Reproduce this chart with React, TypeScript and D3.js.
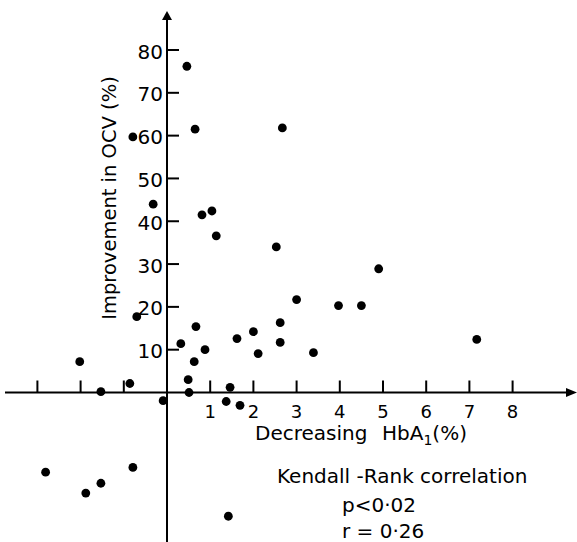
import React from "react";
import * as d3 from "d3";

const WIDTH = 577;
const HEIGHT = 542;
const FONT = "'DejaVu Sans', sans-serif";
const DOT_R = 4.4;

// tick values
const X_LABELED = [1, 2, 3, 4, 5, 6, 7, 8];
const X_UNLABELED = [-3, -2, -1];
const Y_TICKS = [10, 20, 30, 40, 50, 60, 70, 80];

// decrease in HbA1 (%) per patient
const HBA1_DROP = [
  0.46, 0.65, 2.67, -0.79, -0.32, 0.81, 1.04, 1.14, 2.53, 4.9,
  3.0, 3.97, 4.5, -0.7, 0.67, 2.62, 2.0, 1.62, 0.32, 2.62,
  0.88, 2.11, 3.39, 7.17, -2.02, 0.63, 0.49, 0.51, 1.46, -0.86,
  -1.53, -0.09, 1.37, 1.69, -2.81, -1.88, -1.53, -0.79, 1.42,
];

// improvement in OCV (%) per patient
const OCV_GAIN = [
  76.2, 61.5, 61.8, 59.7, 44.0, 41.5, 42.4, 36.6, 34.0, 28.9,
  21.7, 20.3, 20.3, 17.7, 15.4, 16.3, 14.2, 12.6, 11.4, 11.7,
  10.0, 9.1, 9.3, 12.4, 7.2, 7.2, 3.0, 0, 1.2, 2.1,
  0.2, -1.9, -2.1, -3.0, -18.6, -23.5, -21.2, -17.5, -28.9,
];

const STATS = ["Kendall -Rank correlation", "p<0\u00b702", "r = 0\u00b726"];

export default function App() {
  const x = d3.scaleLinear().domain([0, 8]).range([167, 512.6]);
  const y = d3.scaleLinear().domain([0, 80]).range([392.5, 50]);

  const x0 = x(0);
  const y0 = y(0);
  const points = HBA1_DROP.map((v, i) => ({ hx: v, oy: OCV_GAIN[i] }));

  return (
    <svg
      width={WIDTH}
      height={HEIGHT}
      style={{ position: "absolute", left: 0, top: 0, background: "#fff" }}
      fontFamily={FONT}
    >
      {/* axes */}
      <line x1={5} x2={WIDTH - 8} y1={y0} y2={y0} stroke="#000" strokeWidth={2} />
      <line x1={x0} x2={x0} y1={HEIGHT} y2={18} stroke="#000" strokeWidth={2} />
      <path d={`M${WIDTH},${y0} L${WIDTH - 11},${y0 - 4.5} L${WIDTH - 11},${y0 + 4.5} Z`} fill="#000" />
      <path d={`M${x0},11 L${x0 - 5},20 L${x0 + 5},20 Z`} fill="#000" />

      {/* x ticks */}
      {[...X_UNLABELED, ...X_LABELED].map((t) => (
        <line key={`xt${t}`} x1={x(t)} x2={x(t)} y1={y0} y2={y0 - 12} stroke="#000" strokeWidth={2} />
      ))}
      {X_LABELED.map((t) => (
        <text key={`xl${t}`} x={x(t)} y={418} fontSize={18} textAnchor="middle" fill="#000">
          {t}
        </text>
      ))}

      {/* y ticks */}
      {Y_TICKS.map((t) => (
        <g key={`yt${t}`}>
          <line x1={x0} x2={x0 + 12} y1={y(t)} y2={y(t)} stroke="#000" strokeWidth={2} />
          <text x={163} y={y(t) + 8.5} fontSize={20} textAnchor="end" fill="#000">
            {t}
          </text>
        </g>
      ))}

      {/* axis titles */}
      <text
        transform="translate(116,198) rotate(-90)"
        fontSize={19.5}
        textAnchor="middle"
        fill="#000"
      >
        Improvement in OCV (%)
      </text>
      <text x={255} y={440} fontSize={20} fill="#000">
        Decreasing
      </text>
      <text x={382} y={440} fontSize={20} fill="#000">
        HbA
        <tspan fontSize={14} dy={5}>1</tspan>
        <tspan dy={-5}>(%)</tspan>
      </text>

      {/* data */}
      {points.map((d, i) => (
        <circle key={i} cx={x(d.hx)} cy={y(d.oy)} r={DOT_R} fill="#000" />
      ))}

      {/* statistics */}
      <text x={277} y={483} fontSize={20} fill="#000">
        {STATS[0]}
      </text>
      <text x={342} y={512} fontSize={20} fill="#000">
        {STATS[1]}
      </text>
      <text x={342} y={538} fontSize={20} fill="#000">
        {STATS[2]}
      </text>
    </svg>
  );
}
